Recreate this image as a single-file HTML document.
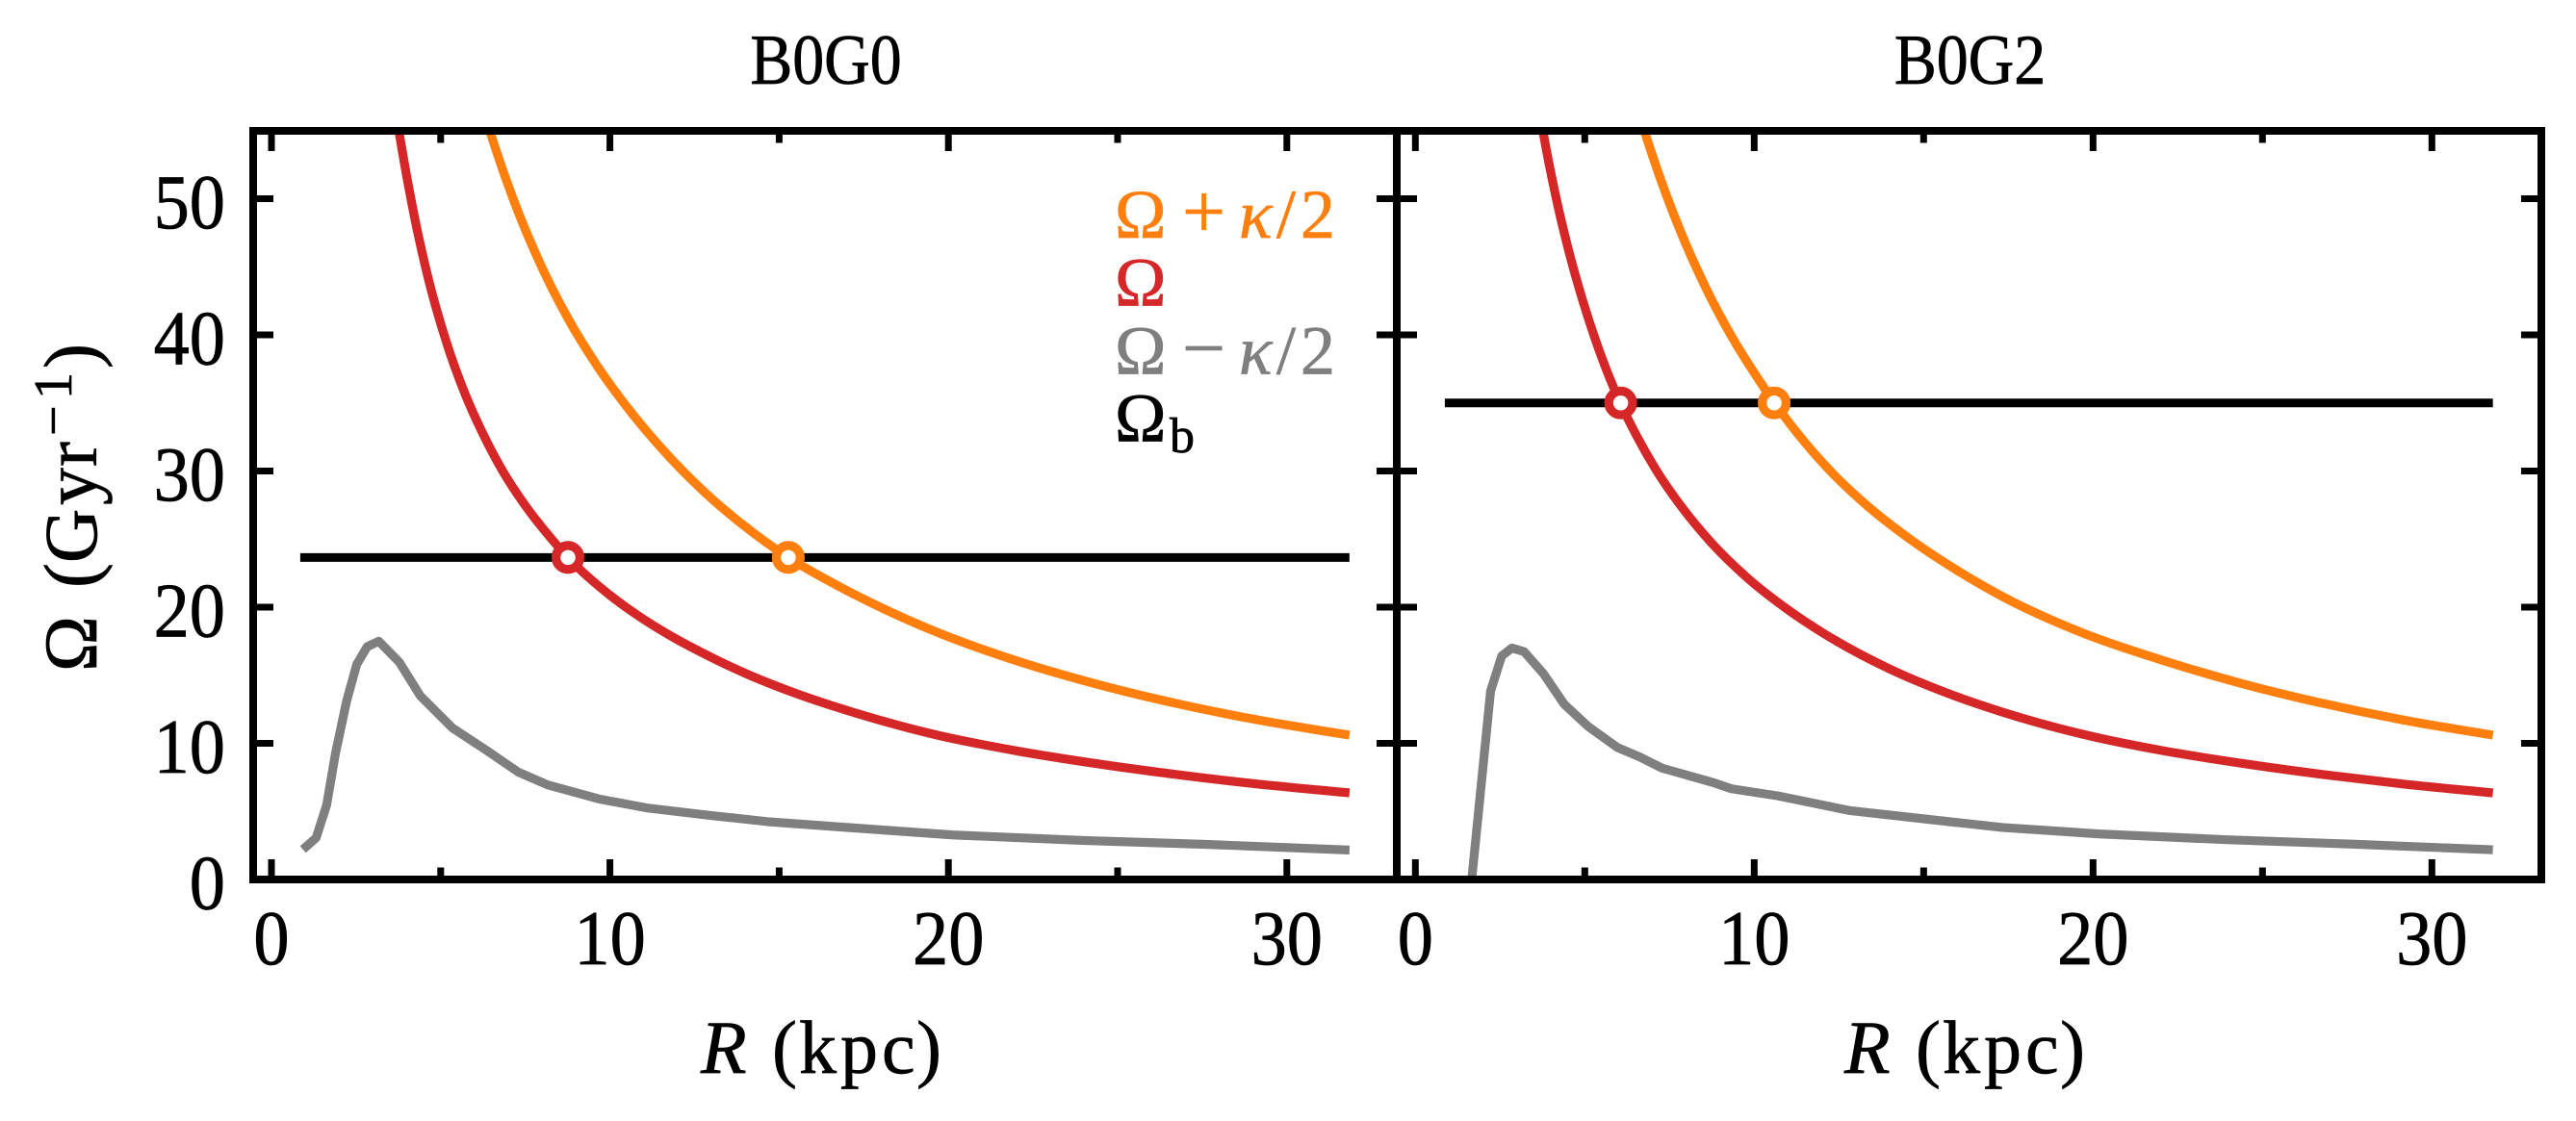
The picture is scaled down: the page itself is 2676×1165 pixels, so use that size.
<!DOCTYPE html>
<html lang="en">
<head>
<meta charset="utf-8">
<title>Omega curves B0G0 and B0G2</title>
<style>
html,body{margin:0;padding:0;background:#fff;}
svg{display:block;}
text{font-family:"Liberation Serif","DejaVu Serif",serif;fill:#000;stroke:#000;stroke-width:.7px;}
</style>
</head>
<body>
<svg id="figure" xmlns="http://www.w3.org/2000/svg" width="2676" height="1165" viewBox="0 0 2676 1165">
  <defs>
    <clipPath id="clip-left"><rect x="263" y="136" width="1188" height="778"/></clipPath>
    <clipPath id="clip-right"><rect x="1451" y="136" width="1189" height="778"/></clipPath>
  </defs>
  <rect x="0" y="0" width="2676" height="1165" fill="#fff"/>
  <g id="marks-left"></g>
  <g id="marks-right"></g>
  <g id="axes"></g>

  <text transform="translate(858,87) scale(.89,1)" text-anchor="middle" font-size="74">B0G0</text>
  <text transform="translate(2046.5,87) scale(.89,1)" text-anchor="middle" font-size="74">B0G2</text>

  <text transform="translate(100,697) rotate(-90)" font-size="78"><tspan x="-1">Ω</tspan><tspan x="86">(</tspan><tspan x="112">G</tspan><tspan x="172">y</tspan><tspan x="212">r</tspan><tspan x="244" y="-26" font-size="56">−</tspan><tspan x="282" y="-26" font-size="56">1</tspan><tspan x="314" y="0">)</tspan></text>

  <text y="1115" font-size="78"><tspan x="728" font-style="italic">R</tspan><tspan x="802">(</tspan><tspan x="830">k</tspan><tspan x="873">p</tspan><tspan x="916">c</tspan><tspan x="952">)</tspan></text>
  <text y="1115" font-size="78"><tspan x="1916" font-style="italic">R</tspan><tspan x="1990">(</tspan><tspan x="2018">k</tspan><tspan x="2061">p</tspan><tspan x="2104">c</tspan><tspan x="2140">)</tspan></text>

  <text y="247" font-size="72" style="fill:#ff7f0e;stroke:#ff7f0e"><tspan x="1158">Ω</tspan><tspan x="1228" font-size="80">+</tspan><tspan x="1287" font-style="italic">κ</tspan><tspan x="1326">/</tspan><tspan x="1351">2</tspan></text>
  <text x="1158" y="317.6" font-size="72" style="fill:#d62728;stroke:#d62728">Ω</text>
  <text y="388.4" font-size="72" style="fill:#7f7f7f;stroke:#7f7f7f"><tspan x="1158">Ω</tspan><tspan x="1228" font-size="80">−</tspan><tspan x="1287" font-style="italic">κ</tspan><tspan x="1326">/</tspan><tspan x="1351">2</tspan></text>
  <text y="458.5" font-size="72"><tspan x="1158">Ω</tspan><tspan x="1215" y="470" font-size="52">b</tspan></text>
</svg>
<script>
// Tick values and labels
const xMajorTicks = [0, 10, 20, 30];
const xMinorTicks = [5, 15, 25];
const yMajorTicks = [0, 10, 20, 30, 40, 50];

// B0G0 series: R in kpc, values in 1/Gyr
const b0g0OmegaR = [3.3, 3.78, 4.26, 4.64, 5.16, 5.73, 6.2, 6.86, 7.53, 8.29, 8.76, 9.99, 10.94, 11.7, 13, 14, 15.5, 17.29, 19.66, 22.03, 24.4, 26.77, 29.14, 31.85];
const b0g0Omega = [62.7, 54.75, 48.24, 44.07, 39.53, 35.6, 32.98, 29.88, 27.36, 24.97, 23.65, 20.9, 19.2, 18.03, 16.31, 15.14, 13.66, 12.2, 10.61, 9.44, 8.5, 7.7, 7.01, 6.36];
const b0g0PlusR = [6, 6.48, 7.15, 7.91, 8.76, 9.61, 10.47, 11.51, 12.84, 13.88, 15.27, 16.63, 18.14, 19.47, 22.03, 24.5, 26.77, 29.14, 31.85];
const b0g0Plus = [58.75, 54.75, 49.93, 45.39, 41.21, 37.77, 34.81, 31.71, 28.35, 26.15, 23.65, 21.71, 19.82, 18.36, 16.05, 14.27, 12.91, 11.72, 10.6];
const b0g0MinusR = [0.93, 1.32, 1.63, 1.89, 2.22, 2.52, 2.83, 3.17, 3.78, 4.4, 5.35, 6.29, 7.29, 8.16, 9.68, 11.13, 13.02, 14.73, 17.29, 20.14, 23.93, 27.7, 31.85];
const b0g0Minus = [2.2, 3.06, 5.46, 9.24, 13.1, 15.8, 17.1, 17.5, 15.95, 13.48, 11.12, 9.59, 7.89, 6.95, 5.91, 5.24, 4.69, 4.23, 3.77, 3.27, 2.87, 2.57, 2.16];
const b0g0Bar = 23.65;
const b0g0BarSpan = [0.85, 31.85];
const b0g0Crossings = [8.76, 15.27];

// B0G2 series
const b0g2OmegaR = [3.3, 3.78, 4.16, 4.54, 4.92, 5.3, 5.72, 6.05, 6.53, 7.09, 7.85, 8.7, 9.74, 10.88, 12.02, 14, 15.6, 17.32, 19.69, 22.06, 24.42, 26.79, 29.16, 31.8];
const b0g2Omega = [62.4, 54.76, 50, 46.04, 42.68, 39.74, 36.92, 35, 32.59, 30.14, 27.39, 24.83, 22.28, 20.02, 18.12, 15.46, 13.78, 12.3, 10.67, 9.46, 8.52, 7.71, 7.01, 6.36];
const b0g2PlusR = [6.3, 6.79, 7.38, 7.95, 8.61, 9.37, 10.13, 10.6, 11.26, 12.21, 13.34, 14.57, 15.99, 17.32, 19.69, 22.06, 24.42, 26.79, 29.16, 31.8];
const b0g2Plus = [58.73, 54.74, 50.45, 46.86, 43.26, 39.73, 36.72, 35, 32.82, 30.1, 27.44, 25.05, 22.7, 20.79, 18.11, 16.09, 14.37, 12.93, 11.71, 10.6];
const b0g2MinusR = [1.6, 2.22, 2.55, 2.85, 3.21, 3.78, 4.39, 5.1, 5.96, 6.62, 7.28, 8.8, 9.33, 10.7, 12.8, 16.03, 17.32, 20.16, 23.95, 27.74, 31.8];
const b0g2Minus = [-1.6, 13.83, 16.42, 17, 16.73, 15.12, 12.88, 11.24, 9.7, 9, 8.18, 7.11, 6.66, 6.14, 5.07, 4.17, 3.82, 3.35, 2.92, 2.59, 2.18];
const b0g2Bar = 35;
const b0g2BarSpan = [0.87, 31.8];
const b0g2Crossings = [6.06, 10.59];

const NS = 'http://www.w3.org/2000/svg';
const ORANGE = '#ff7f0e', RED = '#d62728', GRAY = '#7f7f7f';

function make(parent, tag, attrs) {
  const el = document.createElementNS(NS, tag);
  for (const k in attrs) el.setAttribute(k, attrs[k]);
  parent.appendChild(el);
  return el;
}
function yPx(v) { return 914 - v * 14.15; }
function xLeftPx(v) { return 282 + v * 35.16; }
function xRightPx(v) { return 1470.3 + v * 35.2; }

function polyPath(xs, ys, xf) {
  let d = '';
  xs.forEach(function (x, i) { d += (i ? 'L' : 'M') + xf(x).toFixed(2) + ' ' + yPx(ys[i]).toFixed(2); });
  return d;
}
// Smooth curve through the points, using three-point slopes in x
function smoothPath(xs, ys, xf) {
  const px = xs.map(xf);
  const py = ys.map(yPx);
  const n = px.length;
  const seg = [];
  for (let i = 0; i < n - 1; i++) seg.push((py[i + 1] - py[i]) / (px[i + 1] - px[i]));
  const m = [];
  for (let i = 0; i < n; i++) {
    if (i === 0) { m.push(seg[0]); continue; }
    if (i === n - 1) { m.push(seg[n - 2]); continue; }
    const h0 = px[i] - px[i - 1], h1 = px[i + 1] - px[i];
    m.push((seg[i - 1] * h1 + seg[i] * h0) / (h0 + h1));
  }
  let d = 'M' + px[0].toFixed(2) + ' ' + py[0].toFixed(2);
  for (let i = 0; i < n - 1; i++) {
    const h = (px[i + 1] - px[i]) / 3;
    d += 'C' + (px[i] + h).toFixed(2) + ' ' + (py[i] + m[i] * h).toFixed(2) + ' ' +
         (px[i + 1] - h).toFixed(2) + ' ' + (py[i + 1] - m[i + 1] * h).toFixed(2) + ' ' +
         px[i + 1].toFixed(2) + ' ' + py[i + 1].toFixed(2);
  }
  return d;
}

function drawPanel(host, key, clip, xf, omegaR, omega, plusR, plus, minusR, minus, bar, barSpan, crossings) {
  const g = make(host, 'g', { 'clip-path': 'url(#' + clip + ')' });
  
  
  const style = { fill: 'none', 'stroke-width': 9.2, 'stroke-linejoin': 'round', 'stroke-linecap': 'butt' };

  const minusLine = make(g, 'path', Object.assign({ d: polyPath(minusR, minus, xf), stroke: GRAY }, style));
  
  

  const plusLine = make(g, 'path', Object.assign({ d: smoothPath(plusR, plus, xf), stroke: ORANGE }, style));
  
  

  const omegaLine = make(g, 'path', Object.assign({ d: smoothPath(omegaR, omega, xf), stroke: RED }, style));
  
  

  const barLine = make(g, 'line', { x1: xf(barSpan[0]), x2: xf(barSpan[1]), y1: yPx(bar), y2: yPx(bar), stroke: '#000', 'stroke-width': 9 });
  
  

  const corotation = make(g, 'circle', { cx: xf(crossings[0]), cy: yPx(bar), r: 12.4, fill: '#fff', stroke: RED, 'stroke-width': 9.3 });
  
  

  const olr = make(g, 'circle', { cx: xf(crossings[1]), cy: yPx(bar), r: 12.4, fill: '#fff', stroke: ORANGE, 'stroke-width': 9.3 });
  
  
}

drawPanel(document.getElementById('marks-left'), 'b0g0', 'clip-left', xLeftPx,
  b0g0OmegaR, b0g0Omega, b0g0PlusR, b0g0Plus, b0g0MinusR, b0g0Minus, b0g0Bar, b0g0BarSpan, b0g0Crossings);
drawPanel(document.getElementById('marks-right'), 'b0g2', 'clip-right', xRightPx,
  b0g2OmegaR, b0g2Omega, b0g2PlusR, b0g2Plus, b0g2MinusR, b0g2Minus, b0g2Bar, b0g2BarSpan, b0g2Crossings);

function drawAxes(host, key, xf, left, right, showYLabels) {
  xMajorTicks.forEach(function (v) {
    const bottom = make(host, 'line', { x1: xf(v), x2: xf(v), y1: 914, y2: 893, stroke: '#000', 'stroke-width': 7 });
    
    
    const top = make(host, 'line', { x1: xf(v), x2: xf(v), y1: 136, y2: 157, stroke: '#000', 'stroke-width': 7 });
    
    
    const label = make(host, 'text', { transform: 'translate(' + xf(v) + ',1002) scale(.93,1)', 'text-anchor': 'middle', 'font-size': 80 });
    label.textContent = String(v);
    
    
  });
  xMinorTicks.forEach(function (v) {
    const bottom = make(host, 'line', { x1: xf(v), x2: xf(v), y1: 914, y2: 901.5, stroke: '#000', 'stroke-width': 7 });
    
    
    const top = make(host, 'line', { x1: xf(v), x2: xf(v), y1: 136, y2: 148.5, stroke: '#000', 'stroke-width': 7 });
    
    
  });
  yMajorTicks.forEach(function (v) {
    const a = make(host, 'line', { x1: left, x2: left + 21, y1: yPx(v), y2: yPx(v), stroke: '#000', 'stroke-width': 7 });
    
    
    const b = make(host, 'line', { x1: right, x2: right - 21, y1: yPx(v), y2: yPx(v), stroke: '#000', 'stroke-width': 7 });
    
    
    if (showYLabels) {
      const label = make(host, 'text', { transform: 'translate(234,' + (yPx(v) + 30.3) + ') scale(.93,1)', 'text-anchor': 'end', 'font-size': 80 });
      label.textContent = String(v);
      
      
    }
  });
  const frame = make(host, 'rect', { x: left, y: 136, width: right - left, height: 778, fill: 'none', stroke: '#000', 'stroke-width': 8, 'stroke-linejoin': 'miter' });
  
  
}
const axesHost = document.getElementById('axes');
drawAxes(axesHost, 'b0g0', xLeftPx, 263, 1451, true);
drawAxes(axesHost, 'b0g2', xRightPx, 1451, 2640, false);
</script>
</body>
</html>
